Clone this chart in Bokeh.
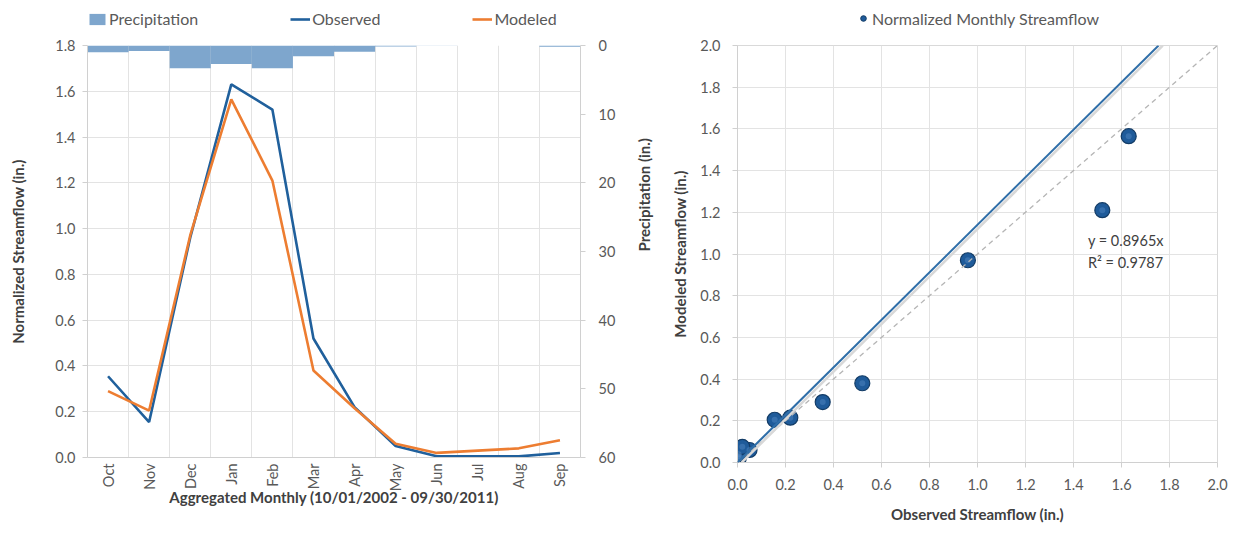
import numpy as np
from bokeh.plotting import figure
from bokeh.layouts import row, column
from bokeh.models import (Range1d, LinearAxis, FixedTicker, Legend, LegendItem,
                          Slope, Label, NumeralTickFormatter)
from bokeh.embed import file_html
from bokeh.resources import INLINE

# ---------------- data ----------------
months = ["Oct", "Nov", "Dec", "Jan", "Feb", "Mar", "Apr", "May", "Jun", "Jul", "Aug", "Sep"]
observed = [0.355, 0.155, 0.96, 1.63, 1.52, 0.52, 0.22, 0.05, 0.005, 0.005, 0.005, 0.02]
modeled = [0.29, 0.205, 0.97, 1.565, 1.21, 0.38, 0.215, 0.06, 0.02, 0.03, 0.04, 0.075]
precip = [1.0, 0.8, 3.3, 2.7, 3.3, 1.55, 0.9, 0.15, 0.05, 0.0, 0.0, 0.2]
stream_ticks = [0.0, 0.2, 0.4, 0.6, 0.8, 1.0, 1.2, 1.4, 1.6, 1.8]
precip_ticks = [0, 10, 20, 30, 40, 50, 60]
scatter_ticks = [0.0, 0.2, 0.4, 0.6, 0.8, 1.0, 1.2, 1.4, 1.6, 1.8, 2.0]
trend_slope = 1.14
eq_lines = ["y = 0.8965x", "R\u00b2 = 0.9787"]

FONT = "Lato"
TICK_COL = "#595959"
TITLE_COL = "#404040"
GRID_COL = "#e3e3e3"
BLUE = "#20609c"
ORANGE = "#ed7d31"
BAR = "#7ea6cd"
PT_FILL = "#1f5b9a"
PT_LINE = "#133c66"

idx = np.arange(len(months))

W1, W2 = 666, 563
LEG_H = 35
H1, H2 = 488, 490


def style_axis(ax):
    ax.major_label_text_font = FONT
    ax.major_label_text_font_size = "14.5px"
    ax.major_label_text_color = TICK_COL
    ax.axis_label_text_font = FONT
    ax.axis_label_text_font_size = "15px"
    ax.axis_label_text_font_style = "bold"
    ax.axis_label_text_color = TITLE_COL
    ax.axis_line_color = "#d0d0d0"
    ax.major_tick_line_color = "#d0d0d0"
    ax.major_tick_in = 0
    ax.major_tick_out = 5
    ax.minor_tick_line_color = None


def legend_fig(width):
    # a strip above a chart that only holds its legend; its ranges lie far
    # away from the data, so the renderers it carries draw nothing visible
    f = figure(width=width, height=LEG_H, x_range=Range1d(1000, 1001),
               y_range=Range1d(1000, 1001),
               output_backend="svg", toolbar_location=None, min_border=0)
    f.axis.visible = False
    f.grid.visible = False
    f.outline_line_color = None
    return f


# ---------------- left chart ----------------
p1 = figure(width=W1, height=H1,
            x_range=Range1d(-0.5, 11.5), y_range=Range1d(0, 1.8),
            output_backend="svg", toolbar_location=None,
            min_border_left=87, min_border_right=86, min_border_top=10,
            min_border_bottom=66)
p1.outline_line_color = None
p1.extra_y_ranges = {"precip": Range1d(start=60, end=0)}

p1.vbar(x=idx, width=1.0, top=0, bottom=precip, y_range_name="precip",
        fill_color=BAR, line_color=None)
p1.line(idx, observed, line_color=BLUE, line_width=2.6)
p1.line(idx, modeled, line_color=ORANGE, line_width=2.6)

p1.xaxis.ticker = FixedTicker(ticks=list(idx))
p1.xaxis.major_label_overrides = {int(i): m for i, m in zip(idx, months)}
p1.xaxis.major_label_orientation = np.pi / 2
p1.xaxis.axis_label = "Aggregated Monthly (10/01/2002 - 09/30/2011)"
p1.yaxis.ticker = FixedTicker(ticks=stream_ticks)
p1.yaxis.formatter = NumeralTickFormatter(format="0.0")
p1.yaxis.axis_label = "Normalized Streamflow (in.)"
for ax in p1.xaxis + p1.yaxis:
    style_axis(ax)
p1.xaxis.major_tick_line_color = None
p1.xaxis.major_tick_out = 0
p1.xaxis.major_label_standoff = 6
p1.xaxis.axis_label_standoff = -6
p1.yaxis.major_label_standoff = 7
p1.yaxis.axis_label_standoff = 25

p1.xgrid.ticker = FixedTicker(ticks=[i - 0.5 for i in range(len(months) + 1)])
p1.xgrid.grid_line_color = GRID_COL
p1.ygrid.grid_line_color = GRID_COL

ax_r = LinearAxis(y_range_name="precip", ticker=FixedTicker(ticks=precip_ticks),
                  axis_label="Precipitation (in.)")
style_axis(ax_r)
ax_r.major_label_standoff = 13
ax_r.axis_label_standoff = 26
ax_r.axis_label_orientation = np.pi / 2
p1.add_layout(ax_r, "right")

# legend strip for left chart
lf1 = legend_fig(W1)
r_bar = lf1.vbar(x=idx, top=0, bottom=precip, width=1, fill_color=BAR, line_color=None)
r_obs = lf1.line(x=idx, y=observed, line_color=BLUE, line_width=2.6)
r_mod = lf1.line(x=idx, y=modeled, line_color=ORANGE, line_width=2.6)
leg1 = Legend(items=[LegendItem(label="Precipitation", renderers=[r_bar]),
                     LegendItem(label="Observed", renderers=[r_obs]),
                     LegendItem(label="Modeled", renderers=[r_mod])],
              orientation="horizontal", location=(0, 7),
              spacing=92, padding=2, margin=0,
              label_text_font=FONT, label_text_font_size="16px",
              label_text_color=TICK_COL, glyph_width=20, glyph_height=14,
              label_standoff=2, border_line_color=None,
              background_fill_alpha=0)
lf1.add_layout(leg1)

# ---------------- right chart ----------------
p2 = figure(width=W2, height=H2,
            x_range=Range1d(0, 2.0), y_range=Range1d(0, 2.0),
            output_backend="svg", toolbar_location=None,
            min_border_left=71, min_border_right=12, min_border_top=10,
            min_border_bottom=63)
p2.outline_line_color = "#d9d9d9"
p2.xgrid.grid_line_color = GRID_COL
p2.ygrid.grid_line_color = GRID_COL
p2.xaxis.ticker = FixedTicker(ticks=scatter_ticks)
p2.yaxis.ticker = FixedTicker(ticks=scatter_ticks)
p2.xaxis.formatter = NumeralTickFormatter(format="0.0")
p2.yaxis.formatter = NumeralTickFormatter(format="0.0")
p2.xaxis.axis_label = "Observed Streamflow (in.)"
p2.yaxis.axis_label = "Modeled Streamflow (in.)"
for ax in p2.xaxis + p2.yaxis:
    style_axis(ax)
p2.xaxis.major_label_standoff = 11
p2.xaxis.axis_label_standoff = 12
p2.yaxis.major_label_standoff = 12
p2.yaxis.axis_label_standoff = 8

p2.add_layout(Slope(gradient=1.0, y_intercept=0, line_color="#b5b5b5",
                    line_width=1.3, line_dash="5 4"))
p2.add_layout(Slope(gradient=trend_slope, y_intercept=-0.02, line_color="#d8d8d8",
                    line_width=2.5))
p2.add_layout(Slope(gradient=trend_slope, y_intercept=0, line_color="#2f6ea8",
                    line_width=2))

p2.scatter(observed, modeled, size=15, fill_color=PT_FILL,
           line_color=PT_LINE, line_width=1.2)
p2.scatter(observed, modeled, size=6, fill_color="#4f86c0", line_color=None,
           fill_alpha=0.5)

for k, t in enumerate(eq_lines):
    p2.add_layout(Label(x=1.46, y=1.065 - 0.105 * k, text=t,
                        text_font=FONT, text_font_size="14.5px",
                        text_color="#404040", text_baseline="middle"))

lf2 = legend_fig(W2)
r_pt = lf2.scatter(x=observed, y=modeled, size=10, fill_color=PT_FILL, line_color=PT_LINE)
leg2 = Legend(items=[LegendItem(label="Normalized Monthly Streamflow", renderers=[r_pt])],
              orientation="horizontal", location=(119, 7),
              padding=2, margin=0, label_text_font=FONT,
              label_text_font_size="16px", label_text_color=TICK_COL,
              glyph_width=14, label_standoff=2, border_line_color=None,
              background_fill_alpha=0)
lf2.add_layout(leg2)

layout = row(column(lf1, p1), column(lf2, p2))
open("out.html", "w").write(file_html(layout, INLINE))
